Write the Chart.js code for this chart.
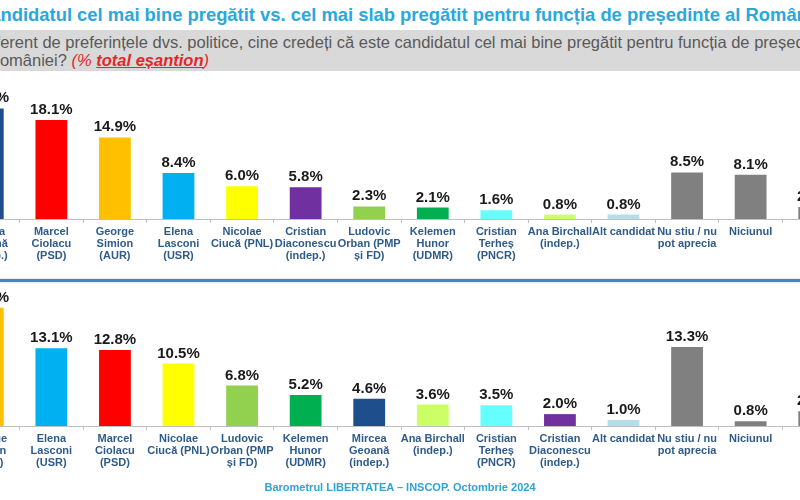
<!DOCTYPE html>
<html>
<head>
<meta charset="utf-8">
<script src="https://cdn.jsdelivr.net/npm/chart.js@4.4.1/dist/chart.umd.min.js"></script>
<style>
  html, body { margin: 0; padding: 0; background: #fff; }
  body { width: 800px; height: 500px; position: relative; overflow: hidden; font-family: "Liberation Sans", Arial, sans-serif; }
  .title { position: absolute; left: -23px; top: 4px; white-space: nowrap; font-size: 18.4px; font-weight: bold; color: #29a8dc; }
  .band { position: absolute; left: 0; top: 30px; width: 800px; height: 41px; background: #d9d9d9; }
  .sub { position: absolute; white-space: nowrap; font-size: 16.5px; color: #5a5a5a; }
  .red { color: #e3262a; font-style: italic; }
  .red b { text-decoration: underline; }
  .sep { position: absolute; left: 0; top: 279px; width: 800px; height: 3px; background: #4f81bd; box-shadow: 0 0 2px #9bbbe0; }
  .footer { position: absolute; left: 0; top: 481px; width: 800px; text-align: center; font-size: 11px; font-weight: bold; color: #2fa3d6; }
  canvas { position: absolute; left: -44px; }
</style>
</head>
<body>
<div class="title">Candidatul cel mai bine pregătit vs. cel mai slab pregătit pentru funcția de președinte al României</div>
<div class="band"></div>
<div class="sub" style="left:-31px; top:33px;">Indiferent de preferințele dvs. politice, cine credeți că este candidatul cel mai bine pregătit pentru funcția de președinte al</div>
<div class="sub" style="left:-12px; top:51px;">României? <span class="red">(% <b>total eșantion</b>)</span></div>
<canvas id="topChart" width="890" height="205" style="top:75px"></canvas>
<div class="sep"></div>
<canvas id="bottomChart" width="890" height="200" style="top:283px"></canvas>
<div class="footer">Barometrul LIBERTATEA – INSCOP. Octombrie 2024</div>

<script>
// ---------------------- date ----------------------
const bestLabels = [
  ['Mircea', 'Geoană', '(indep.)'], ['Marcel', 'Ciolacu', '(PSD)'], ['George', 'Simion', '(AUR)'],
  ['Elena', 'Lasconi', '(USR)'], ['Nicolae', 'Ciucă (PNL)'], ['Cristian', 'Diaconescu', '(indep.)'],
  ['Ludovic', 'Orban (PMP', 'și FD)'], ['Kelemen', 'Hunor', '(UDMR)'], ['Cristian', 'Terheș', '(PNCR)'],
  ['Ana Birchall', '(indep.)'], ['Alt candidat'], ['Nu stiu / nu', 'pot aprecia'], ['Niciunul'], ['NR']
];
const bestValues = [20.2, 18.1, 14.9, 8.4, 6.0, 5.8, 2.3, 2.1, 1.6, 0.8, 0.8, 8.5, 8.1, 2.2];
const bestColors = ['#1f4e8c', '#ff0000', '#ffc000', '#00b0f0', '#ffff00', '#7030a0', '#92d050',
  '#00b050', '#66ffff', '#ccff66', '#b7dde8', '#808080', '#808080', '#808080'];

const worstLabels = [
  ['George', 'Simion', '(AUR)'], ['Elena', 'Lasconi', '(USR)'], ['Marcel', 'Ciolacu', '(PSD)'],
  ['Nicolae', 'Ciucă (PNL)'], ['Ludovic', 'Orban (PMP', 'și FD)'], ['Kelemen', 'Hunor', '(UDMR)'],
  ['Mircea', 'Geoană', '(indep.)'], ['Ana Birchall', '(indep.)'], ['Cristian', 'Terheș', '(PNCR)'],
  ['Cristian', 'Diaconescu', '(indep.)'], ['Alt candidat'], ['Nu stiu / nu', 'pot aprecia'], ['Niciunul'], ['NR']
];
const worstValues = [19.9, 13.1, 12.8, 10.5, 6.8, 5.2, 4.6, 3.6, 3.5, 2.0, 1.0, 13.3, 0.8, 2.5];
const worstColors = ['#ffc000', '#00b0f0', '#ff0000', '#ffff00', '#92d050', '#00b050', '#1f4e8c',
  '#ccff66', '#66ffff', '#7030a0', '#b7dde8', '#808080', '#808080', '#808080'];

const FONT = '"Liberation Sans", Arial, sans-serif';

// etichete cu valori deasupra barelor
const valueLabels = {
  id: 'valueLabels',
  afterDatasetsDraw(chart) {
    const c = chart.ctx;
    const meta = chart.getDatasetMeta(0);
    const data = chart.data.datasets[0].data;
    c.save();
    c.font = 'bold 15px ' + FONT;
    c.fillStyle = '#1a1a1a';
    c.textAlign = 'center';
    c.textBaseline = 'alphabetic';
    meta.data.forEach((bar, i) => {
      c.fillText(data[i].toFixed(1) + '%', bar.x, bar.y - 6);
    });
    c.restore();
  }
};

function makeChart(id, labels, values, colors, yMax, axisHeight) {
  return new Chart(document.getElementById(id), {
    type: 'bar',
    data: {
      labels: labels,
      datasets: [{
        data: values,
        backgroundColor: colors,
        borderWidth: 0,
        categoryPercentage: 1,
        barPercentage: 0.5
      }]
    },
    options: {
      responsive: false,
      animation: false,
      devicePixelRatio: 1,
      layout: { padding: 0 },
      plugins: { legend: { display: false }, tooltip: { enabled: false } },
      scales: {
        x: {
          afterFit: (scale) => { scale.height = axisHeight; },
          border: { display: true, color: '#bfbfbf', width: 1 },
          grid: { display: true, drawOnChartArea: false, drawTicks: true, tickLength: 4, color: '#bfbfbf', offset: true },
          ticks: {
            autoSkip: false, maxRotation: 0, minRotation: 0, padding: 3,
            color: '#2f5b8a',
            font: { family: FONT, size: 11, weight: 'bold', lineHeight: 1.1 }
          }
        },
        y: { display: false, min: 0, max: yMax }
      }
    },
    plugins: [valueLabels]
  });
}

makeChart('topChart', bestLabels, bestValues, bestColors, 26.3, 61);
makeChart('bottomChart', worstLabels, worstValues, worstColors, 24.07, 57);
</script>
</body>
</html>
